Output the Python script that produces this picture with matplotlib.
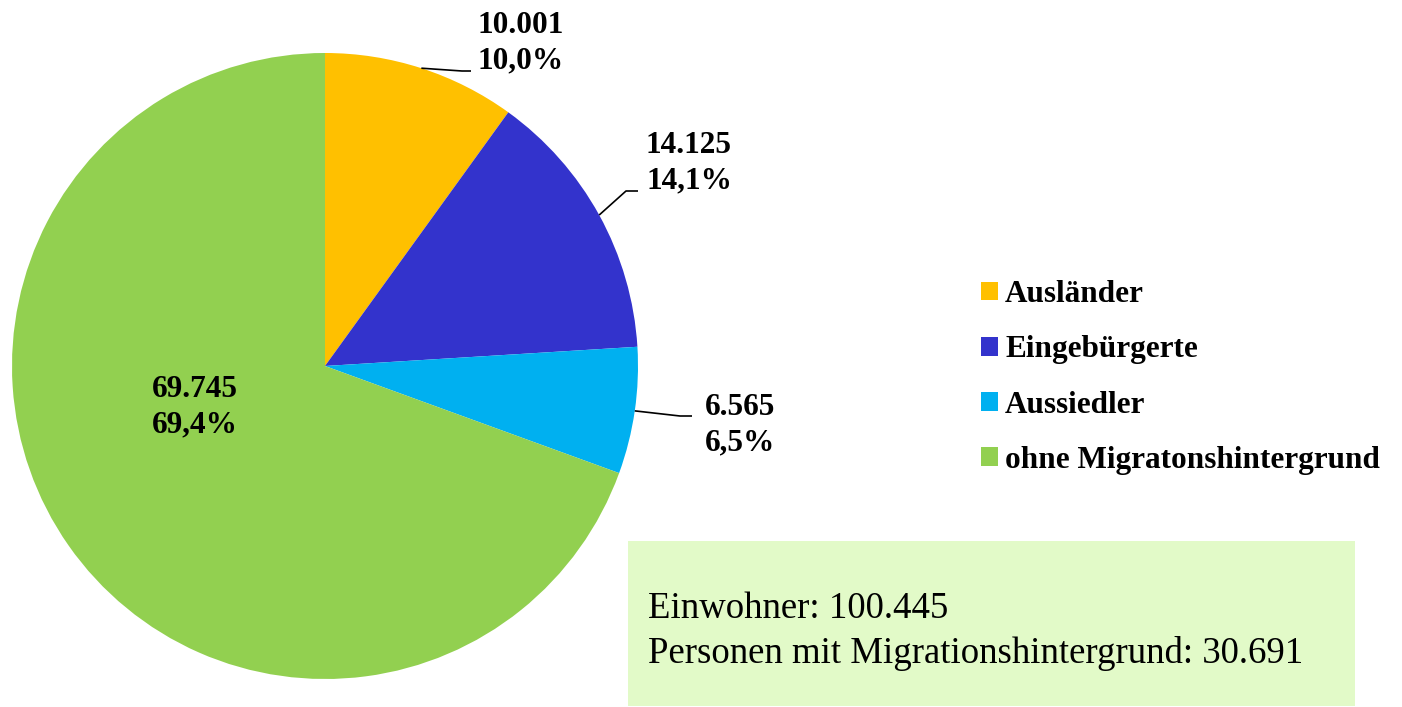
import numpy as np
import matplotlib
matplotlib.use("Agg")
import matplotlib.pyplot as plt
from matplotlib.patches import Rectangle

plt.rcParams["font.family"] = ["Liberation Serif", "DejaVu Serif"]

# Daten
gruppen = ["Ausländer", "Eingebürgerte", "Aussiedler", "ohne Migratonshintergrund"]
personen = [10001, 14125, 6565, 69745]
farben = ["#FFC000", "#3333CC", "#00B0F0", "#92D050"]
einwohner = 100445
mit_migration = 30691

def punkte(v):
    return f"{v:,}".replace(",", ".")

def prozent(v):
    return f"{v / einwohner * 100:.1f}".replace(".", ",") + "%"

W, H = 1402, 707
fig = plt.figure(figsize=(W / 100, H / 100), dpi=100)
ax = fig.add_axes([0, 0, 1, 1])

mitte = (325, 341)
radius = 313
wedges, _ = ax.pie(personen, colors=farben, startangle=90, counterclock=False,
                   center=mitte, radius=radius, frame=True,
                   wedgeprops=dict(linewidth=0))
ax.set_xlim(0, W)
ax.set_ylim(0, H)
ax.set_aspect("equal")
ax.axis("off")

# Beschriftungen: Textmitte und Knick/Ende der Führungslinie (None = innen)
label_pos = [(521, 664), (689, 544), (740, 282), (195, 300)]
linien = [[(462, 636), (471, 636)],
          [(626, 516), (638, 516)],
          [(680, 291), (692, 291)],
          None]

for w, v, pos, lin in zip(wedges, personen, label_pos, linien):
    ax.text(pos[0], pos[1], punkte(v) + "\n" + prozent(v), ha="center", va="center",
            fontsize=22.5, fontweight="bold", linespacing=1.3)
    if lin is not None:
        mid = np.deg2rad((w.theta1 + w.theta2) / 2)
        x0 = mitte[0] + radius * np.cos(mid)
        y0 = mitte[1] + radius * np.sin(mid)
        xs = [x0] + [p[0] for p in lin]
        ys = [y0] + [p[1] for p in lin]
        ax.plot(xs, ys, color="black", lw=1.2, solid_capstyle="butt")

# Legende
leg = fig.legend(wedges, gruppen, loc="center left", bbox_to_anchor=(981 / W, 329.5 / H),
                 frameon=False, borderpad=0, borderaxespad=0,
                 handlelength=0.55, handleheight=0.55, handletextpad=0.22,
                 labelspacing=0.84, prop=dict(size=22.5, weight="bold"))

# Infokasten
ax.add_patch(Rectangle((628, 1), 727, 165, facecolor="#E2FAC8", edgecolor="none"))
ax.text(648, 89, f"Einwohner: {punkte(einwohner)}", fontsize=26.5, va="baseline")
ax.text(648, 44, f"Personen mit Migrationshintergrund: {punkte(mit_migration)}",
        fontsize=26.5, va="baseline")

fig.savefig("out.png", dpi=100)
